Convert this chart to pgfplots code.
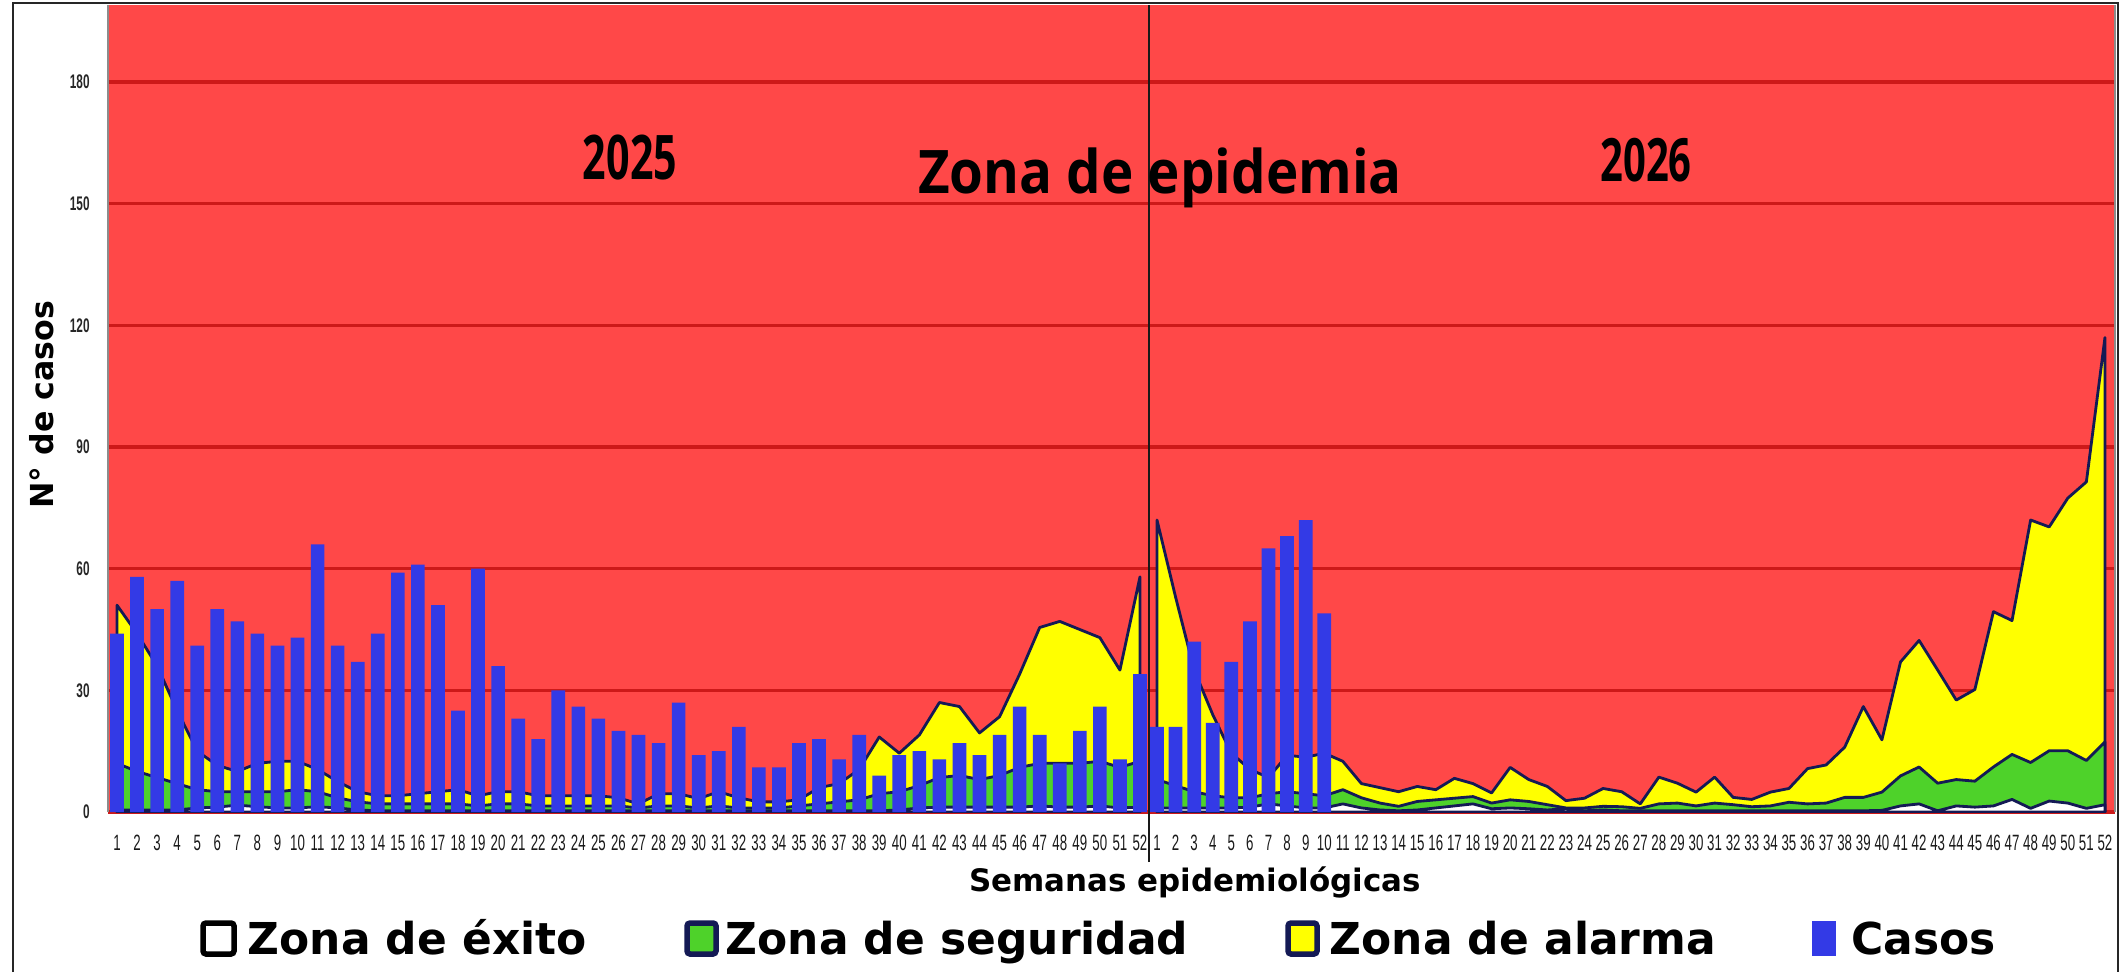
\documentclass[border=0pt]{standalone}
\usepackage{fontspec}
\usepackage{pgfplots}
\usepackage{pgfplotstable}
\pgfplotsset{compat=1.18}
\newfontfamily\tickfont{Liberation Sans}[FakeStretch=0.6]
\newfontfamily\yearfont{Open Sans}[FakeStretch=0.67]
\newfontfamily\titlefont{Open Sans}[FakeStretch=0.91]
\newfontfamily\djv{DejaVu Sans}
\definecolor{bgred}{RGB}{255,72,72}
\definecolor{gridred}{RGB}{205,25,25}
\definecolor{yel}{RGB}{255,255,0}
\definecolor{grn}{RGB}{78,210,42}
\definecolor{navy}{RGB}{20,26,85}
\definecolor{barblue}{RGB}{51,58,230}

% week, success (l1), security (l2), alarm (l3), cases
\pgfplotstableread{
w l1 l2 l3 c
1 0.5 12 51 44
2 0.5 10 44 58
3 0.5 8.5 36 50
4 0.5 7 25 57
5 1 5.5 15 41
6 1.2 5 11.5 50
7 1.7 5 10 47
8 1.3 5 12 44
9 1 5 12.5 41
10 1 5.5 12.5 43
11 1.3 5 10.5 66
12 1 3.5 7.5 41
13 0.5 2.5 5 37
14 0.3 2 4 44
15 0.3 2 4 59
16 0.3 2 4.5 61
17 0.3 2 5 51
18 0.3 2 5.5 25
19 0.3 1.5 4 60
20 0.3 2 5 36
21 0.3 2 5 23
22 0.3 1.5 4 18
23 0.3 1.5 4 30
24 0.3 1.5 4 26
25 0.3 1.5 4 23
26 0.3 1.5 3.5 20
27 0.3 1 2 19
28 0.3 1.5 4.5 17
29 0.3 1.5 4.5 27
30 0.3 1 3.3 14
31 0.3 1.5 5 15
32 0.3 1 3.5 21
33 0.3 1 2.5 11
34 0.3 1 2.5 11
35 0.3 1.5 3 17
36 0.3 2 6 18
37 0.3 2.5 7 13
38 0.3 3 10.5 19
39 0.3 4.5 18.5 9
40 0.5 5 14.5 14
41 1 6.5 19 15
42 1.2 8.5 27 13
43 1.2 9 26 17
44 1.2 8 19.5 14
45 1.2 9 23.5 19
46 1.2 11 34 26
47 1.5 12 45.5 19
48 1.2 12 47 12
49 1.2 12 45 20
50 1.5 12.5 43 26
51 1 11 35 13
52 1.2 12.5 58 34
}\tA

\pgfplotstableread{
w l1 l2 l3
1 1 8 72
2 1 6.5 53
3 1 5 35
4 1 4 24
5 1 3.5 14.5
6 1.2 3.5 10.5
7 2 4.5 8.5
8 1.5 5 14
9 1 4.5 13.5
10 1 4 14.5
11 2 5.5 12.5
12 1 3.5 7
13 0.5 2.2 6
14 0.3 1.4 5
15 0.5 2.6 6.3
16 1 3 5.5
17 1.5 3.4 8.3
18 2 3.8 7
19 0.8 2.2 4.7
20 1 3 11
21 0.8 2.6 8
22 0.5 1.8 6.3
23 0.8 1 2.8
24 0.3 1 3.4
25 0.5 1.4 5.8
26 0.3 1.3 5
27 0.3 0.9 2
28 0.3 2 8.6
29 0.3 2.2 7.1
30 0.3 1.5 4.9
31 0.3 2.2 8.6
32 0.3 1.8 3.6
33 0.3 1.3 3.1
34 0.3 1.5 4.9
35 0.3 2.4 5.8
36 0.3 2 10.7
37 0.3 2.2 11.6
38 0.3 3.6 16
39 0.3 3.6 26
40 0.4 4.9 17.8
41 1.5 8.9 37
42 2 11.1 42.3
43 0.3 7.1 35
44 1.5 8 27.6
45 1.2 7.6 30.2
46 1.5 11.1 49.4
47 3.1 14.2 47.2
48 0.9 12.2 72
49 2.7 15.1 70.3
50 2.2 15.1 77.4
51 0.9 12.7 81.4
52 1.8 17.3 117
}\tB

\pgfplotstableread{
w c
1 21
2 21
3 42
4 22
5 37
6 47
7 65
8 68
9 72
10 49
}\tBc

\pgfplotsset{
  chan/.style={
    scale only axis,
    anchor=south west,
    height=80.7mm,
    ymin=0, ymax=199,
    ytick={0,30,...,180},
    xtick={1,...,52},
    ymajorgrids,
    grid style={draw=gridred, line width=0.9pt},
    major tick length=0pt,
    axis line style={draw=none},
    axis background/.style={fill=bgred},
    /pgf/number format/assume math mode=true,
    xticklabel style={font=\tickfont\fontsize{6.3}{7}\selectfont, text=black!90, yshift=-3pt},
    yticklabel style={font=\tickfont\bfseries\fontsize{5.6}{6}\selectfont, text=black!85, xshift=-1.7pt},
  },
  zone/.style={draw=navy, line width=0.8pt, line join=round},
}

\begin{document}
\begin{tikzpicture}
\path[use as bounding box] (0,0) rectangle (212.6mm,97.2mm);

% 2025
\begin{axis}[chan, at={(10.8mm,16.0mm)}, width=104.1mm, xmin=0.551, xmax=52.449]
\addplot[zone, fill=yel] table[x=w,y=l3]{\tA} \closedcycle;
\addplot[zone, fill=grn] table[x=w,y=l2]{\tA} \closedcycle;
\addplot[zone, fill=white] table[x=w,y=l1]{\tA} \closedcycle;
\addplot[ybar, bar width=0.68, fill=barblue, draw=none] table[x=w,y=c]{\tA};
\end{axis}

% 2026
\begin{axis}[chan, at={(114.9mm,16.0mm)}, width=96.6mm, xmin=0.57, xmax=52.54, yticklabels={}]
\addplot[zone, fill=yel] table[x=w,y=l3]{\tB} \closedcycle;
\addplot[zone, fill=grn] table[x=w,y=l2]{\tB} \closedcycle;
\addplot[zone, fill=white] table[x=w,y=l1]{\tB} \closedcycle;
\addplot[ybar, bar width=0.74, fill=barblue, draw=none] table[x=w,y=c]{\tBc};
\end{axis}

% frame and separators
\draw[black!85, line width=0.2mm] (1.3mm,0) -- (1.3mm,96.9mm) -- (211.8mm,96.9mm) -- (211.8mm,0);
\draw[black!45, line width=0.15mm] (10.8mm,16.0mm) -- (10.8mm,96.7mm);
\draw[black!45, line width=0.15mm] (211.5mm,16.0mm) -- (211.5mm,96.7mm);
\draw[black!90, line width=0.25mm] (114.9mm,11.0mm) -- (114.9mm,96.7mm);

% texts in plot
\node[anchor=base, inner sep=0] at (63.0mm,79.2mm) {\yearfont\bfseries\fontsize{17.5}{18}\selectfont 2025};
\node[anchor=base, inner sep=0] at (164.6mm,79.0mm) {\yearfont\bfseries\fontsize{17}{18}\selectfont 2026};
\node[anchor=base, inner sep=0] at (116.0mm,77.8mm) {\titlefont\bfseries\fontsize{17.1}{18}\selectfont Zona de epidemia};

% axis titles
\node[anchor=base, inner sep=0] at (119.5mm,8.1mm) {\djv\bfseries\fontsize{8.8}{10}\selectfont Semanas epidemiológicas};
\node[rotate=90, inner sep=0] at (4.2mm,56.7mm) {\djv\bfseries\fontsize{9}{10}\selectfont N° de casos};

% legend
\draw[black, line width=0.55mm, fill=white, rounded corners=0.3mm] (20.3mm,1.8mm) rectangle (23.4mm,4.9mm);
\node[anchor=base west, inner sep=0] at (24.7mm,1.8mm) {\djv\bfseries\fontsize{12.5}{14}\selectfont Zona de éxito};
\draw[navy, line width=0.55mm, fill=grn, rounded corners=0.3mm] (68.7mm,1.8mm) rectangle (71.6mm,4.9mm);
\node[anchor=base west, inner sep=0] at (72.5mm,1.8mm) {\djv\bfseries\fontsize{12.5}{14}\selectfont Zona de seguridad};
\draw[navy, line width=0.55mm, fill=yel, rounded corners=0.3mm] (128.8mm,1.8mm) rectangle (131.7mm,4.9mm);
\node[anchor=base west, inner sep=0] at (132.9mm,1.8mm) {\djv\bfseries\fontsize{12.5}{14}\selectfont Zona de alarma};
\fill[barblue] (181.2mm,1.6mm) rectangle (183.6mm,5.1mm);
\node[anchor=base west, inner sep=0] at (185.1mm,1.8mm) {\djv\bfseries\fontsize{12.5}{14}\selectfont Casos};
\end{tikzpicture}
\end{document}
